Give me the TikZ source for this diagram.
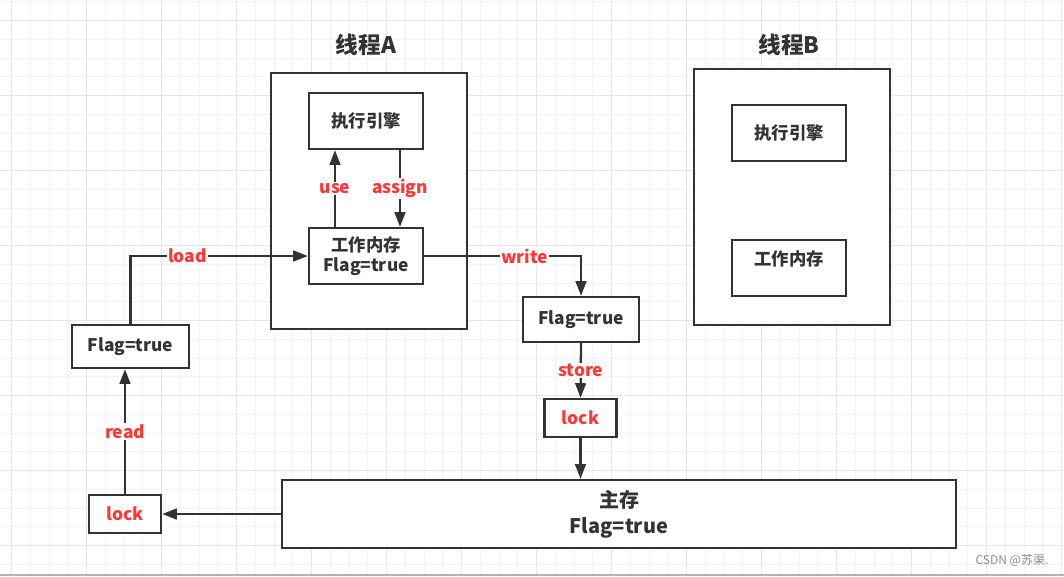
\documentclass[tikz,border=0pt]{standalone}
\usepackage{fontspec}
\setmainfont{Noto Sans CJK SC}
\usetikzlibrary{arrows.meta}
\definecolor{ink}{HTML}{333333}
\definecolor{redtxt}{HTML}{FF3737}
\definecolor{gridminor}{HTML}{F3F3F3}
\definecolor{gridmajor}{HTML}{E6E6E6}
\tikzset{
  box/.style={draw=ink, line width=1.7pt, fill=white, text=ink, font=\bfseries\fontsize{13}{15}\selectfont,
    align=center, inner sep=0pt, minimum width=85.5pt, minimum height=42pt},
  thread/.style={draw=ink, line width=1.7pt, fill=white, minimum width=147pt, minimum height=192pt},
  title/.style={text=ink, font=\bfseries\fontsize{17}{20}\selectfont},
  lab/.style={fill=white, text=redtxt, font=\bfseries\fontsize{13}{15}\selectfont, inner sep=1pt},
  arr/.style={draw=ink, line width=1.7pt, -{Triangle[length=11pt, width=8pt]}},
  link/.style={draw=ink, line width=1.7pt}
}
\begin{document}
\begin{tikzpicture}[x=0.75pt, y=-0.75pt]
  \useasboundingbox (0,0) rectangle (1064,576);
  \fill[white] (0,0) rectangle (1064,576);
  % grid
  \foreach \i in {0,...,57}
    \draw[gridminor, line width=0.75pt] ({-7.05+18.75*\i},0) -- ({-7.05+18.75*\i},576);
  \foreach \i in {0,...,31}
    \draw[gridminor, line width=0.75pt] (0,{1.95+18.75*\i}) -- (1064,{1.95+18.75*\i});
  \foreach \i in {0,...,14}
    \draw[gridmajor, line width=0.75pt] ({11.7+75*\i},0) -- ({11.7+75*\i},576);
  \foreach \i in {0,...,7}
    \draw[gridmajor, line width=0.75pt] (0,{20.7+75*\i}) -- (1064,{20.7+75*\i});
  \draw[color=black!30, line width=1.5pt] (0,575) -- (1064,575);

  % threads
  \node[title] (titleA) at (366,45) {线程A};
  \node[title] (titleB) at (789,45) {线程B};
  \node[thread] (thrA) at (369,201) {};
  \node[thread] (thrB) at (792,197) {};
  \node[box] (engA) at (366,121) {执行引擎};
  \node[box] (memA) at (366,256) {工作内存\\Flag=true};
  \node[box] (engB) at (789,133) {执行引擎};
  \node[box] (memB) at (789,268) {工作内存\\\mbox{}};

  % main memory side
  \node[box, minimum width=87.75pt, minimum height=32.25pt] (flagL) at (130.5,346.5) {Flag=true};
  \node[box, minimum width=54pt, minimum height=28.5pt, text=redtxt] (lockL) at (125,514) {lock};
  \node[box, minimum width=87pt, minimum height=33.75pt] (flagM) at (581,319.5) {Flag=true};
  \node[box, minimum width=54pt, minimum height=28.5pt, text=redtxt] (lockM) at (580.5,418) {lock};
  \node[box, minimum width=505.5pt, minimum height=51pt, font=\bfseries\fontsize{15}{19.5}\selectfont] (main) at (619,514) {主存\\Flag=true};

  % connectors
  \draw[arr] ([xshift=-23.25pt]memA.north) -- ([xshift=-23.25pt]engA.south) node[lab, midway]{use};
  \draw[arr] ([xshift=25.5pt]engA.south) -- ([xshift=25.5pt]memA.north) node[lab, midway]{assign};
  \draw[arr] (flagL.north) |- (memA.west) node[lab, pos=0.66]{load};
  \draw[arr] (memA.east) -| (flagM.north) node[lab, pos=0.32]{write};
  \draw[arr] (flagM.south) -- (lockM.north) node[lab, midway]{store};
  \draw[arr] (lockM.south) -- (lockM.south |- main.north);
  \draw[arr] (main.west) -- (lockL.east);
  \draw[arr] (lockL.north) -- (lockL.north |- flagL.south) node[lab, midway]{read};

  \node[text=black!45, font=\fontsize{9}{11}\selectfont] (mark) at (1012,560) {CSDN @苏渠.};
\end{tikzpicture}
\end{document}
